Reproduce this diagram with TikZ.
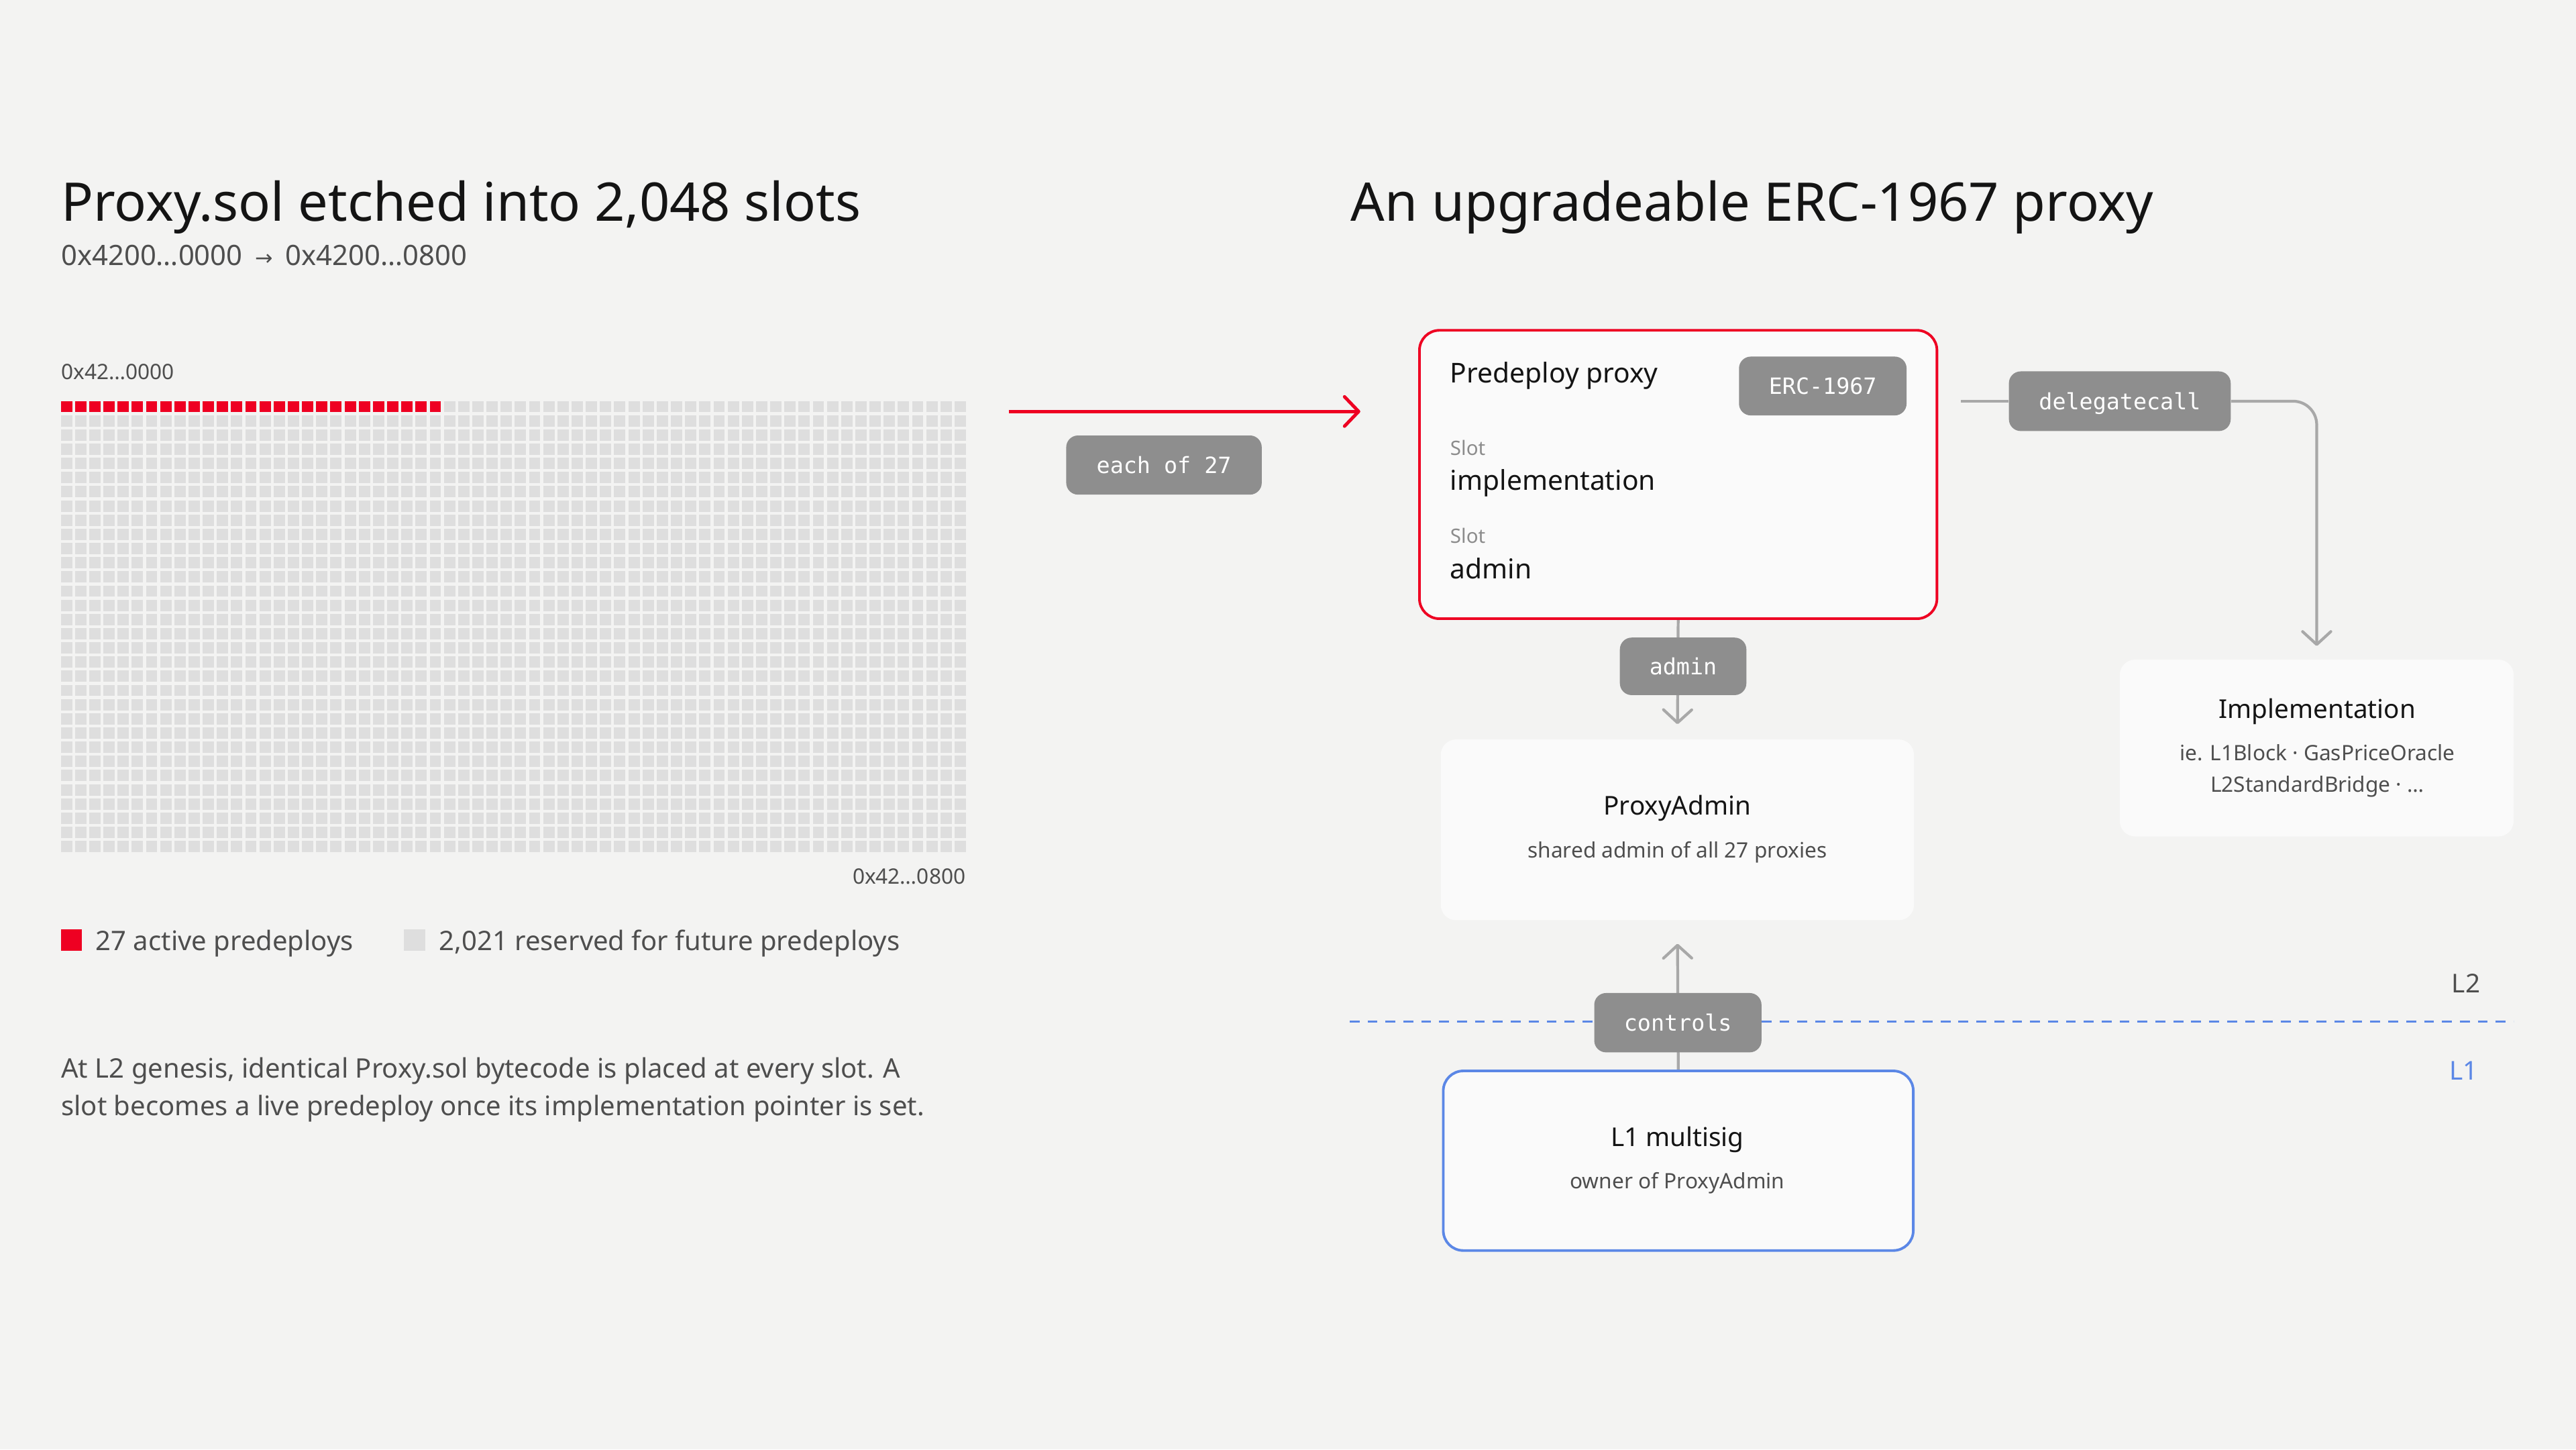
\documentclass[tikz,border=0pt]{standalone}
\usepackage{fontspec}
\setmainfont{Noto Sans}
\newfontfamily\monof{DejaVu Sans Mono}
\newfontfamily\symf{DejaVu Sans}
\usetikzlibrary{arrows.meta,fit}
\definecolor{bgc}{HTML}{F3F3F2}
\definecolor{boxc}{HTML}{FAFAFA}
\definecolor{redc}{HTML}{EE0022}
\definecolor{badgec}{HTML}{8E8E8E}
\definecolor{linec}{HTML}{A8A8A8}
\definecolor{bluec}{HTML}{5B87E6}
\definecolor{cellc}{HTML}{DEDEDE}
\definecolor{ink}{HTML}{141414}
\definecolor{ink2}{HTML}{4E4E4E}
\definecolor{ink3}{HTML}{8C8C8C}
\newcommand\uu{0.0245cm}
\pgfdeclarelayer{bg}
\pgfdeclarelayer{lines}
\pgfsetlayers{bg,lines,main}
\begin{document}
\begin{tikzpicture}[x=0.0245cm,y=-0.0245cm,
  txt/.style={anchor=base west, inner sep=0pt, text=ink},
  ctxt/.style={anchor=base, inner sep=0pt, text=ink},
  card/.style={rectangle, rounded corners=6.5pt, fill=boxc, inner sep=0pt},
  badge/.style 2 args={rectangle, rounded corners=5pt, fill=badgec, inner sep=0pt, text=white,
    font=\monof\fontsize{9.5}{11}\selectfont, text height=0.72em, text depth=0pt,
    minimum width=#1*\uu, minimum height=#2*\uu},
  conn/.style={draw=linec, line width=1.2pt, -{Straight Barb[length=5.5pt,width=12pt,round]}},
  ftitle/.style={font=\fontsize{22.6}{27}\selectfont},
  fmain/.style={font=\fontsize{11.6}{14}\selectfont},
  fbox/.style={font=\fontsize{11}{13}\selectfont},
  fsub/.style={font=\fontsize{9}{11}\selectfont, text=ink2},
  fbody/.style={font=\fontsize{11.4}{14}\selectfont, text=ink2},
  faddr/.style={font=\fontsize{9}{11}\selectfont, text=ink2}
]
\begin{pgfonlayer}{bg}
  \fill[bgc] (0,0) rectangle (1568,882);
\end{pgfonlayer}
\useasboundingbox (0,0) rectangle (1568,882);

% ---------------- left panel ----------------
\node[txt, ftitle] (t1) at (37,134.7) {Proxy.sol etched into 2,048 slots};
\node[txt, font=\fontsize{11.9}{14}\selectfont, text=ink2] (sub) at (37,161.3)
  {0x4200…0000\hspace{0.45em}{\symf\fontsize{9}{10}\selectfont →}\hspace{0.45em}0x4200…0800};
\node[txt, faddr] (a0) at (37,230.7) {0x42…0000};
\foreach \r in {0,...,31}{
  \foreach \c in {0,...,63}{
    \fill[cellc] ({37+\c*8.636},{244+\r*8.636}) rectangle ++(6.9,6.9);
  }
}
\foreach \c in {0,...,26}{
  \fill[redc] ({37+\c*8.636},244) rectangle ++(6.9,6.9);
}
\node[anchor=base east, inner sep=0pt, faddr] (a1) at (588,538) {0x42…0800};

\fill[redc] (37,565.5) rectangle (50,578.5);
\node[txt, fbody] (lg1) at (58,578.5) {27 active predeploys};
\fill[cellc] (246,565.5) rectangle (259,578.5);
\node[txt, fbody] (lg2) at (267,578.5) {2,021 reserved for future predeploys};

\node[txt, fbody] (p1) at (37,656) {At L2 genesis, identical Proxy.sol bytecode is placed at every slot. A};
\node[txt, fbody] (p2) at (37,679) {slot becomes a live predeploy once its implementation pointer is set.};

% ---------------- connector from grid ----------------
\coordinate (ra) at (614,250.4);
\coordinate (rb) at (828,250.4);
\draw[redc, line width=1.4pt, -{Straight Barb[length=6pt,width=12.5pt,round]}] (ra) -- (rb);
\node[badge={119}{36}] (each) at (708.5,283) {each of 27};

% ---------------- right panel ----------------
\node[txt, ftitle] (t2) at (822,134.7) {An upgradeable ERC-1967 proxy};

\node[card, draw=redc, line width=1.1pt, rounded corners=8.5pt, fit={(864,201) (1179,376.5)}] (proxy) {};
\node[txt, fmain] (pp) at (882.5,233) {Predeploy proxy};
\node[badge={102}{35.8}] (erc) at (1109.5,234.9) {ERC-1967};
\node[txt, font=\fontsize{8.4}{10}\selectfont, text=ink3] (s1) at (882.5,277) {Slot};
\node[txt, fmain] (simpl) at (882.5,298.4) {implementation};
\node[txt, font=\fontsize{8.4}{10}\selectfont, text=ink3] (s2) at (882.5,330.7) {Slot};
\node[txt, fmain] (sadmin) at (882.5,352.3) {admin};

\node[badge={135}{36.3}] (dc) at (1290.3,244.15) {delegatecall};
\node[card, fit={(1290.3,401.4) (1530,509)}] (impl) {};
\node[ctxt, fbox] (implt) at (1410.5,437) {Implementation};
\node[ctxt, fsub] (impls1) at (1410.5,462.8) {ie. L1Block · GasPriceOracle};
\node[ctxt, fsub] (impls2) at (1410.5,482) {L2StandardBridge · …};

\node[badge={77}{35}] (adm) at (1024.5,405.5) {admin};
\node[card, fit={(877,450) (1165,560)}] (pa) {};
\node[ctxt, fbox] (pat) at (1021,495.8) {ProxyAdmin};
\node[ctxt, fsub] (pas) at (1021,522) {shared admin of all 27 proxies};

\coordinate (dl) at (821.5,621.6);
\coordinate (dr) at (1530,621.6);
\node[ctxt, fbox, text=ink2] (l2) at (1501,604.3) {L2};
\node[ctxt, fbox, text=bluec] (l1) at (1499.5,657.4) {L1};

\node[badge={101.8}{36.1}] (ctl) at (1021.3,622.35) {controls};
\node[card, draw=bluec, line width=1.1pt, rounded corners=8.5pt, fit={(878.5,651.7) (1164.6,761)}] (ms) {};
\node[ctxt, fbox] (mst) at (1021,697.6) {L1 multisig};
\node[ctxt, fsub] (mss) at (1021,723.4) {owner of ProxyAdmin};

\coordinate (dstart) at (1193.7,244.15);

\begin{pgfonlayer}{lines}
  \draw[bluec, line width=0.9pt, dash pattern=on 4.2pt off 3.4pt] (dl) -- (dr);
  \draw[linec, line width=1.2pt] (dstart) -- (dc.west);
  \draw[conn, rounded corners=10pt, shorten >=5.6pt] (dc.east) -| (impl.north);
  \draw[conn, shorten >=6.3pt] (proxy.south) -- (pa.north);
  \draw[conn, shorten >=9.8pt] (ms.north) -- (pa.south);
\end{pgfonlayer}
\end{tikzpicture}
\end{document}
